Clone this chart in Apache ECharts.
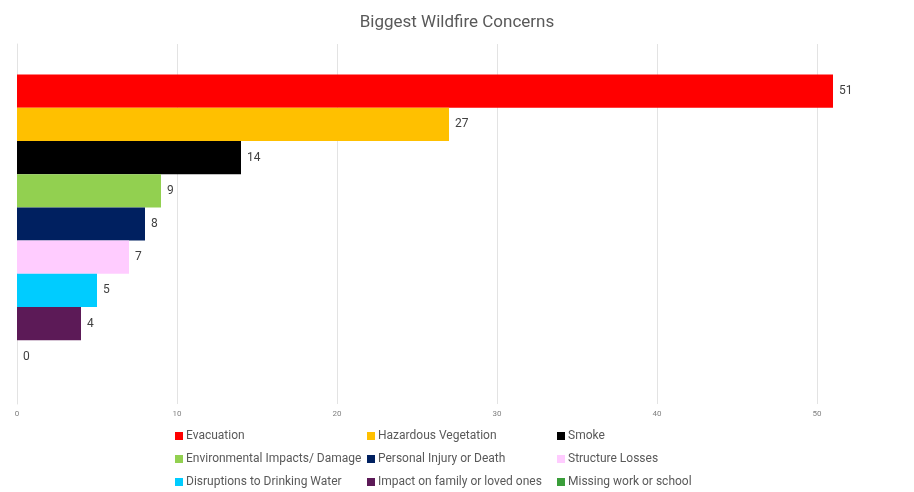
<!DOCTYPE html>
<html><head><meta charset="utf-8">
<script src="https://cdn.jsdelivr.net/npm/echarts@6/dist/echarts.min.js"></script>
<style>html,body{margin:0;padding:0;background:#fff}#c{width:914px;height:492px}</style>
</head><body><div id="c"></div>
<script>
const seriesNames = ["Evacuation","Hazardous Vegetation","Smoke","Environmental Impacts/ Damage","Personal Injury or Death","Structure Losses","Disruptions to Drinking Water","Impact on family or loved ones","Missing work or school"];
const seriesValues = [51,27,14,9,8,7,5,4,0];
const seriesColors = ["#FF0000","#FFC000","#000000","#92D050","#002060","#FFCCFF","#00CCFF","#5C1A57","#3A9E3A"];
const xTicks = [0,10,20,30,40,50];
const category = ["Concerns"];

const chart = echarts.init(document.getElementById('c'));
const font = "Roboto, sans-serif";
const legendCols = [[0,3,6],[1,4,7],[2,5,8]];
const legendLeft = [175,367,557];
chart.setOption({
  animation:false,
  title:{text:"Biggest Wildfire Concerns",left:'center',top:9,textStyle:{fontFamily:font,fontSize:17,fontWeight:'normal',color:'#595959'}},
  grid:{left:17,right:97,top:44,bottom:88,containLabel:false},
  xAxis:{type:'value',min:xTicks[0],max:xTicks[xTicks.length-1],interval:10,
    axisLine:{show:false},axisTick:{show:false},
    splitLine:{lineStyle:{color:'#e3e3e3'}},
    axisLabel:{fontFamily:font,fontSize:8,color:'#7f7f7f',margin:6}},
  yAxis:{type:'category',data:category,inverse:true,axisLine:{show:true,lineStyle:{color:'#e3e3e3'}},axisTick:{show:false},axisLabel:{show:false}},
  legend:legendCols.map((col,i)=>({
    orient:'vertical',left:legendLeft[i],top:429,padding:0,itemGap:9,itemWidth:8,itemHeight:8,icon:'rect',
    data:col.map(j=>seriesNames[j]),
    textStyle:{fontFamily:font,fontSize:12,lineHeight:14,color:'#595959',padding:[0,0,0,-2]}
  })),
  series:seriesNames.map((n,i)=>({
    name:n,type:'bar',data:[seriesValues[i]],clip:false,
    barGap:'0%',barCategoryGap:'17%',
    itemStyle:{color:seriesColors[i]},
    label:{show:true,position:'right',distance:6,fontFamily:font,fontSize:12,color:'#404040'}
  }))
});
</script></body></html>
